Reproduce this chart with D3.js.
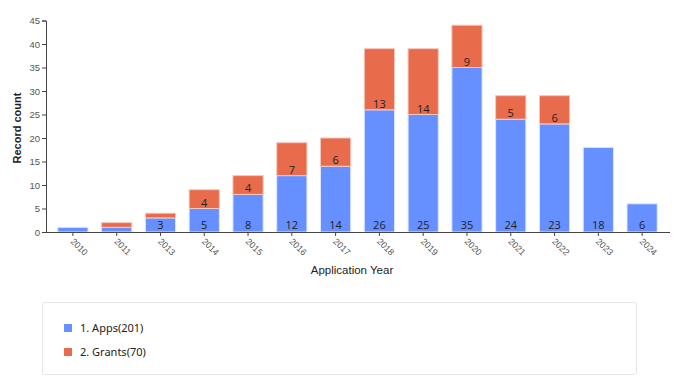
<!DOCTYPE html>
<html><head><meta charset="utf-8">
<script src="https://cdn.jsdelivr.net/npm/d3@7"></script>
<style>
body{margin:0;background:#fff;font-family:"Open Sans","Noto Sans",sans-serif;}
</style></head>
<body><svg id="c" width="683" height="389"></svg>
<script>
const years = ["2010","2011","2013","2014","2015","2016","2017","2018","2019","2020","2021","2022","2023","2024"];
const apps = [1,1,3,5,8,12,14,26,25,35,24,23,18,6];
const grants = [0,1,1,4,4,7,6,13,14,9,5,6,0,0];
const yTicks = [0,5,10,15,20,25,30,35,40,45];
const seriesNames = ["1. Apps(201)","2. Grants(70)"];
const colors = ["#668fff","#e86b4c"];

const svg = d3.select("#c");
const x = d3.scaleBand().domain(years).range([51,664]).paddingInner(0.31).paddingOuter(0.155);
const y = d3.scaleLinear().domain([0,45]).range([232,20.5]);

const g = svg.append("g");
years.forEach((yr,i)=>{
  const a = apps[i], gr = grants[i];
  g.append("rect").attr("x",x(yr)).attr("width",x.bandwidth())
    .attr("y",y(a)).attr("height",y(0)-y(a))
    .attr("fill",colors[0]).attr("stroke","#dfe6ff").attr("stroke-width",1);
  if(gr>0){
    g.append("rect").attr("x",x(yr)).attr("width",x.bandwidth())
      .attr("y",y(a+gr)).attr("height",y(a)-y(a+gr))
      .attr("fill",colors[1]).attr("stroke","#f5c8bb").attr("stroke-width",1);
  }
  const cx = x(yr)+x.bandwidth()/2;
  if(a>=3){
    g.append("text").attr("x",cx).attr("y",y(0)-3).attr("text-anchor","middle")
      .attr("font-size",11).attr("fill","#222").text(a);
  }
  if(gr>=3){
    g.append("text").attr("x",cx).attr("y",y(a)-2).attr("text-anchor","middle")
      .attr("font-size",11).attr("fill","#222").text(gr);
  }
});

const ya = svg.append("g").attr("transform","translate(46,0)")
  .call(d3.axisLeft(y).tickValues(yTicks).tickSize(4).tickPadding(2));
ya.select(".domain").attr("stroke","#444");
ya.selectAll(".tick line").attr("stroke","#444");
ya.selectAll("text").attr("font-size",9.5).attr("fill","#555").attr("font-family","Liberation Sans, Arial, sans-serif");

const xa = svg.append("g").attr("transform","translate(0,232)")
  .call(d3.axisBottom(x).tickSize(4).tickSizeOuter(0));
xa.select(".domain").attr("d","M46,0.5H670").attr("stroke","#444");
xa.selectAll(".tick line").attr("stroke","#444");
xa.selectAll("text").attr("font-size",9).attr("fill","#555").attr("font-family","Liberation Sans, Arial, sans-serif")
  .attr("text-anchor","start").attr("transform","translate(-3,10) rotate(45)")
  .attr("dy","0").attr("y",0).attr("x",0);

svg.append("text").attr("x",352).attr("y",274).attr("text-anchor","middle")
  .attr("font-family","Liberation Sans, Arial, sans-serif")
  .attr("font-size",11.5).attr("fill","#222").text("Application Year");
svg.append("text").attr("transform","translate(21,128) rotate(-90)").attr("text-anchor","middle")
  .attr("font-family","Liberation Sans, Arial, sans-serif")
  .attr("font-size",11).attr("font-weight","700").attr("fill","#222").text("Record count");

svg.append("rect").attr("x",42.5).attr("y",302.5).attr("width",594).attr("height",72).attr("rx",2)
  .attr("fill","#fff").attr("stroke","#e6e6e6");
seriesNames.forEach((n,i)=>{
  const ly = 328 + i*24;
  svg.append("rect").attr("x",64).attr("y",ly-4).attr("width",8).attr("height",8).attr("fill",colors[i]);
  svg.append("text").attr("x",80).attr("y",ly+4).attr("font-size",11).attr("fill","#222")
    .attr("font-family","Noto Sans, sans-serif").text(n);
});
</script></body></html>
